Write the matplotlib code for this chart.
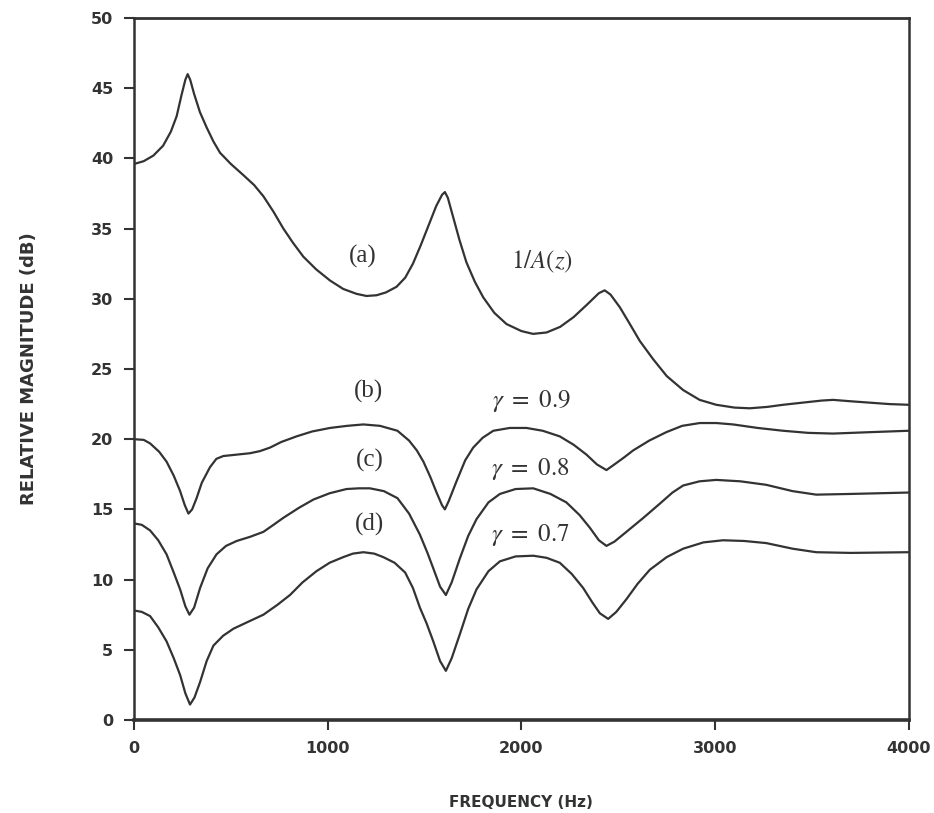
import numpy as np
import matplotlib
matplotlib.use("Agg")
import matplotlib.pyplot as plt

# values (frequency in Hz, magnitude in dB)
freq_a = [0, 50, 100, 150, 190, 220, 245, 265, 277, 290, 310, 340, 375, 410, 444, 500,
          565, 620, 668, 720, 771, 820, 874, 940, 1012, 1080, 1149, 1200, 1252, 1300,
          1355, 1400, 1440, 1480, 1520, 1560, 1590, 1605, 1620, 1648, 1680, 1716, 1760,
          1803, 1860, 1923, 2000, 2060, 2130, 2200, 2270, 2340, 2400, 2430, 2460, 2508,
          2560, 2611, 2680, 2750, 2835, 2920, 3006, 3100, 3179, 3270, 3351, 3450, 3550,
          3609, 3700, 3800, 3900, 4000]
mag_a = [39.6, 39.8, 40.2, 40.9, 41.9, 43.0, 44.5, 45.6, 46.0, 45.6, 44.6, 43.3, 42.2,
         41.2, 40.4, 39.6, 38.8, 38.1, 37.3, 36.2, 35.0, 34.0, 33.0, 32.1, 31.3, 30.7,
         30.35, 30.2, 30.25, 30.45, 30.85, 31.5, 32.5, 33.8, 35.2, 36.6, 37.4, 37.6, 37.2,
         35.8, 34.2, 32.6, 31.2, 30.1, 29.0, 28.2, 27.7, 27.5, 27.6, 28.0, 28.7, 29.6,
         30.4, 30.6, 30.3, 29.4, 28.2, 27.0, 25.7, 24.5, 23.5, 22.8, 22.45, 22.25, 22.2,
         22.3, 22.45, 22.6, 22.75, 22.8, 22.7, 22.6, 22.5, 22.45]

freq_b = [0, 50, 83, 130, 168, 205, 238, 262, 281, 300, 323, 350, 392, 425, 461, 530,
          599, 650, 702, 760, 839, 920, 1012, 1100, 1184, 1270, 1360, 1420, 1460, 1494,
          1530, 1562, 1590, 1605, 1625, 1665, 1710, 1751, 1800, 1855, 1940, 2026, 2110,
          2198, 2270, 2336, 2390, 2439, 2480, 2530, 2577, 2660, 2748, 2830, 2921, 3006,
          3093, 3220, 3351, 3480, 3609, 3800, 4000]
mag_b = [20.0, 19.95, 19.7, 19.1, 18.4, 17.4, 16.3, 15.3, 14.7, 15.0, 15.8, 16.9, 18.0,
         18.6, 18.8, 18.9, 19.0, 19.15, 19.4, 19.8, 20.2, 20.55, 20.8, 20.95, 21.05,
         20.95, 20.6, 19.9, 19.2, 18.4, 17.3, 16.2, 15.3, 15.0, 15.6, 17.0, 18.5, 19.4,
         20.1, 20.6, 20.8, 20.8, 20.6, 20.2, 19.6, 18.9, 18.2, 17.8, 18.2, 18.7, 19.2,
         19.9, 20.5, 20.95, 21.15, 21.15, 21.05, 20.8, 20.6, 20.45, 20.4, 20.5, 20.6]

freq_c = [0, 40, 83, 125, 168, 205, 238, 265, 286, 310, 341, 380, 426, 475, 530, 600,
          668, 720, 771, 850, 926, 1010, 1097, 1160, 1218, 1290, 1360, 1420, 1476, 1515,
          1545, 1580, 1610, 1640, 1682, 1725, 1768, 1830, 1889, 1970, 2061, 2150, 2232,
          2300, 2353, 2400, 2439, 2480, 2542, 2630, 2714, 2780, 2835, 2920, 3006, 3130,
          3264, 3400, 3522, 3700, 4000]
mag_c = [14.0, 13.9, 13.5, 12.8, 11.8, 10.5, 9.3, 8.1, 7.5, 8.0, 9.4, 10.8, 11.8, 12.4,
         12.75, 13.05, 13.4, 13.9, 14.4, 15.1, 15.7, 16.15, 16.45, 16.5, 16.5, 16.3,
         15.8, 14.7, 13.2, 11.9, 10.8, 9.5, 8.9, 9.8, 11.5, 13.1, 14.3, 15.5, 16.1,
         16.45, 16.5, 16.1, 15.5, 14.6, 13.7, 12.8, 12.4, 12.7, 13.4, 14.4, 15.4, 16.2,
         16.7, 17.0, 17.1, 17.0, 16.75, 16.3, 16.05, 16.1, 16.2]

freq_d = [0, 40, 83, 125, 168, 205, 238, 265, 289, 312, 341, 375, 410, 460, 513, 590,
          668, 740, 805, 870, 942, 1010, 1080, 1130, 1184, 1240, 1287, 1345, 1400, 1440,
          1476, 1510, 1545, 1580, 1610, 1640, 1682, 1725, 1768, 1830, 1889, 1970, 2061,
          2130, 2198, 2260, 2319, 2365, 2405, 2448, 2490, 2542, 2600, 2663, 2750, 2835,
          2940, 3041, 3150, 3264, 3400, 3522, 3700, 4000]
mag_d = [7.8, 7.7, 7.4, 6.6, 5.6, 4.4, 3.2, 1.9, 1.1, 1.6, 2.7, 4.2, 5.3, 6.0, 6.5, 7.0,
         7.5, 8.2, 8.9, 9.8, 10.6, 11.2, 11.6, 11.85, 11.95, 11.85, 11.6, 11.2, 10.5,
         9.4, 8.0, 6.9, 5.6, 4.2, 3.5, 4.4, 6.1, 7.9, 9.3, 10.6, 11.3, 11.65, 11.7,
         11.55, 11.2, 10.4, 9.4, 8.4, 7.6, 7.2, 7.7, 8.6, 9.7, 10.7, 11.6, 12.2, 12.65,
         12.8, 12.75, 12.6, 12.2, 11.95, 11.9, 11.95]

curve_tags = ['(a)', '(b)', '(c)', '(d)']
curve_notes = ['$1/A(z)$', r'$\gamma\ =\ 0.9$', r'$\gamma\ =\ 0.8$', r'$\gamma\ =\ 0.7$']
x_ticks = [0, 1000, 2000, 3000, 4000]
y_ticks = list(range(0, 55, 5))

plt.rcParams['mathtext.fontset'] = 'stix'
INK = '#333333'

fig = plt.figure(figsize=(9.34, 8.13), dpi=100)
ax = fig.add_axes([0.1435, 0.1144, 0.8295, 0.8635])

for f, m in [(freq_a, mag_a), (freq_b, mag_b), (freq_c, mag_c), (freq_d, mag_d)]:
    ax.plot(f, m, color=INK, lw=1.6, solid_joinstyle='round')

# labels next to each curve
tag_pos = [(1180, 33.0), (1209, 23.4), (1218, 18.5), (1218, 13.9)]
note_pos = [(2104, 32.6), (2050, 22.7), (2045, 17.9), (2045, 13.2)]
for tag, (tx, ty) in zip(curve_tags, tag_pos):
    ax.text(tx, ty, tag, ha='center', va='center', fontsize=18,
            family='Liberation Serif', color=INK)
for note, (nx, ny) in zip(curve_notes, note_pos):
    ax.text(nx, ny, note, ha='center', va='center', fontsize=18, color=INK)

ax.set_xlim(0, 4000)
ax.set_ylim(0, 50)
ax.set_xticks(x_ticks)
ax.set_yticks(y_ticks)
ax.tick_params(direction='out', length=7, width=1.5, color=INK, pad=8,
               labelsize=11.5, labelcolor=INK)
for lab in ax.get_xticklabels() + ax.get_yticklabels():
    lab.set_fontweight('bold')

for side in ['left', 'right']:
    ax.spines[side].set_linewidth(1.8)
ax.spines['top'].set_linewidth(2.0)
ax.spines['bottom'].set_linewidth(2.6)
for sp in ax.spines.values():
    sp.set_color(INK)

ax.set_xlabel('FREQUENCY (Hz)', fontsize=11, fontweight='bold', color=INK, labelpad=28)
ax.set_ylabel('RELATIVE MAGNITUDE (dB)', fontsize=13, fontweight='bold', color=INK,
              labelpad=38)

fig.savefig('out.png', dpi=100, facecolor='white')
